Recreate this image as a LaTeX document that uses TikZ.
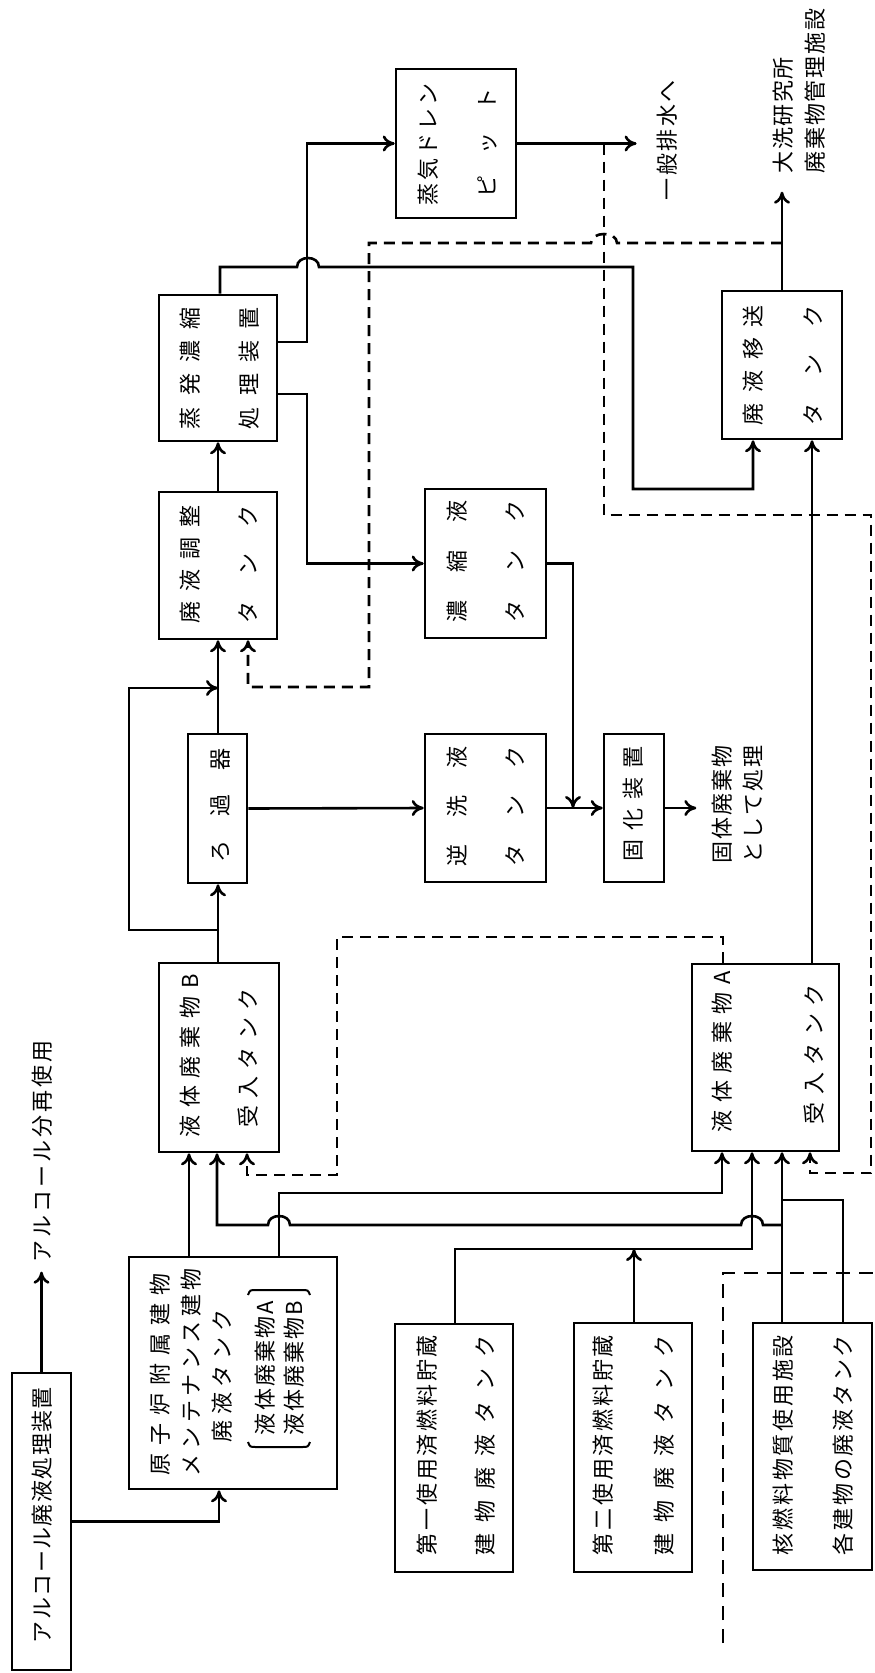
\documentclass[tikz,border=0pt]{standalone}
\usepackage{fontspec}
\newfontfamily\jp{Noto Sans CJK JP}
\usetikzlibrary{arrows.meta}
\newcommand\jpt{\jp\fontsize{22}{26}\selectfont}
% spread the characters of #2 over the length #1
\newcommand\spr[2]{\hbox to #1{\sprA#2\relax}}
\def\sprA#1{#1\sprB}
\def\sprB#1{\ifx#1\relax\else\hfill#1\expandafter\sprB\fi}
\begin{document}
\begin{tikzpicture}[x=1pt,y=-1pt,line width=2.6pt,
  bx/.style={draw,line width=2.6pt,inner sep=0pt},
  tx/.style={rotate=90,inner sep=0pt,font=\jpt},
  arr/.style={-{Computer Modern Rightarrow[length=12pt,width=16pt]}},
  dsh/.style={dash pattern=on 11pt off 7pt},
  dshb/.style={dash pattern=on 14pt off 9pt}]
\useasboundingbox (0,0) rectangle (875,1673);
% boxes
\node[bx,minimum width=59pt,minimum height=297pt] (alc) at (41.5,1521.5) {};
\node[bx,minimum width=208pt,minimum height=232pt] (genshi) at (233,1373) {};
\node[bx,minimum width=120pt,minimum height=189pt] (tankB) at (219,1057.5) {};
\node[bx,minimum width=59pt,minimum height=149pt] (filt) at (217.5,808.5) {};
\node[bx,minimum width=118pt,minimum height=147pt] (adj) at (218,565.5) {};
\node[bx,minimum width=118pt,minimum height=146pt] (evap) at (218,368) {};
\node[bx,minimum width=120pt,minimum height=149pt] (drain) at (456,143.5) {};
\node[bx,minimum width=121pt,minimum height=149pt] (conc) at (485.5,563.5) {};
\node[bx,minimum width=121pt,minimum height=148pt] (back) at (485.5,808) {};
\node[bx,minimum width=60pt,minimum height=148pt] (solid) at (634,808) {};
\node[bx,minimum width=120pt,minimum height=148pt] (transfer) at (782,365) {};
\node[bx,minimum width=147pt,minimum height=187pt] (tankA) at (765.5,1057.5) {};
\node[bx,minimum width=118pt,minimum height=248pt] (first) at (454,1448) {};
\node[bx,minimum width=118pt,minimum height=249pt] (second) at (633,1447.5) {};
\node[bx,minimum width=119pt,minimum height=247pt] (nuc) at (812.5,1446.5) {};

% texts
\node[tx] (alc-t) at (42,1515) {\spr{256pt}{アルコール廃液処理装置}};
\node[tx] (reuse) at (42,1151) {\spr{222pt}{アルコール分再使用}};
\node[tx] (genshi-t1) at (160,1374) {\spr{202pt}{原子炉附属建物}};
\node[tx] (genshi-t2) at (191,1372) {\spr{208pt}{メンテナンス建物}};
\node[tx] (genshi-t3) at (222,1376) {\spr{133pt}{廃液タンク}};
\node[tx] (genshi-t4) at (265,1368) {\spr{134pt}{液体廃棄物A}};
\node[tx] (genshi-t5) at (294,1368) {\spr{134pt}{液体廃棄物B}};
\node[tx] (tankB-t1) at (190,1056) {\spr{163pt}{液体廃棄物B}};
\node[tx] (tankB-t2) at (248,1058) {\spr{139pt}{受入タンク}};
\node[tx] (filt-t) at (220,805) {\spr{114pt}{ろ過器}};
\node[tx] (adj-t1) at (190,564) {\spr{118pt}{廃液調整}};
\node[tx] (adj-t2) at (248,564) {\spr{118pt}{タンク}};
\node[tx] (evap-t1) at (190,368) {\spr{122pt}{蒸発濃縮}};
\node[tx] (evap-t2) at (249,368) {\spr{122pt}{処理装置}};
\node[tx] (drain-t1) at (428,144) {\spr{122pt}{蒸気ドレン}};
\node[tx] (drain-t2) at (487,143) {\spr{109pt}{ピット}};
\node[tx] (haisui) at (667,140) {\spr{120pt}{一般排水へ}};
\node[tx] (conc-t1) at (457,561) {\spr{122pt}{濃縮液}};
\node[tx] (conc-t2) at (515,561) {\spr{122pt}{タンク}};
\node[tx] (back-t1) at (457,806) {\spr{120pt}{逆洗液}};
\node[tx] (back-t2) at (515,806) {\spr{120pt}{タンク}};
\node[tx] (solid-t) at (633,804) {\spr{115pt}{固化装置}};
\node[tx] (kotai1) at (722,804) {\spr{118pt}{固体廃棄物}};
\node[tx] (kotai2) at (753,804) {\spr{118pt}{として処理}};
\node[tx] (transfer-t1) at (753,365) {\spr{120pt}{廃液移送}};
\node[tx] (transfer-t2) at (813,365) {\spr{120pt}{タンク}};
\node[tx] (oarai1) at (783,115) {\spr{116pt}{大洗研究所}};
\node[tx] (oarai2) at (815,91) {\spr{165pt}{廃棄物管理施設}};
\node[tx] (tankA-t1) at (722,1052) {\spr{161pt}{液体廃棄物A}};
\node[tx] (tankA-t2) at (814,1054) {\spr{140pt}{受入タンク}};
\node[tx] (first-t1) at (427,1445) {\spr{220pt}{第一使用済燃料貯蔵}};
\node[tx] (first-t2) at (485,1445) {\spr{220pt}{建物廃液タンク}};
\node[tx] (second-t1) at (603,1445) {\spr{220pt}{第二使用済燃料貯蔵}};
\node[tx] (second-t2) at (664,1445) {\spr{220pt}{建物廃液タンク}};
\node[tx] (nuc-t1) at (783,1445) {\spr{220pt}{核燃料物質使用施設}};
\node[tx] (nuc-t2) at (843,1445) {\spr{220pt}{各建物の廃液タンク}};

% brackets round the two kinds of waste
\draw[line width=2pt] (248,1442) .. controls (250,1447) .. (256,1447) -- (302,1447) .. controls (308,1447) .. (310,1442);
\draw[line width=2pt] (248,1295) .. controls (250,1290) .. (256,1290) -- (302,1290) .. controls (308,1290) .. (310,1295);

% main flow
\draw[arr] (alc.north) -- ++(0,-100);
\draw[arr] (alc.east) -| (genshi.south -| 219,0);
\draw[arr] (genshi.north -| 189,0) -- (tankB.south -| 189,0);
\draw[arr] (genshi.north -| 279,0) |- (722,1193) -- (tankA.south -| 722,0);
\draw[arr] (nuc.north -| 782,0) -- (tankA.south -| 782,0);
\draw (nuc.north -| 843,0) |- (782,1200);
\draw[arr] (782,1225) -- (763,1225) .. controls (763,1213) and (741,1213) .. (741,1225)
  -- (290,1225) .. controls (290,1213) and (268,1213) .. (268,1225) -| (tankB.south -| 217,0);
\draw[arr] (first.north -| 455,0) |- (752,1249) -- (tankA.south -| 752,0);
\draw[arr] (second.north -| 634,0) -- (634,1249);
\draw[arr] (tankB.north -| 218,0) -- (filt.south -| 218,0);
\draw[arr] (filt.south |- 0,930) -| (129,688) -- (218,688);
\draw[arr] (filt.north -| 218,0) -- (adj.south -| 218,0);
\draw[arr] (adj.north) -- (evap.south);
\draw[arr] (evap.east |- 0,342) -| (307,143.5) -- (drain.west);
\draw[arr] (evap.east |- 0,394) -| (307,563.5) -- (conc.west);
\draw[arr] (evap.north -| 220,0) |- (297,267) .. controls (297,255) and (319,255) .. (319,267)
  -| (633,489) -| (transfer.south -| 753,0);
\draw[arr] (drain.east) -- ([xshift=-19pt]drain.east -| haisui.north);
\coordinate (mix) at (573,808);
\draw[arr] (filt.east) -- (back.west);
\draw[arr] (conc.east) -| (mix);
\draw[arr] (back.east) -- (solid.west);
\draw[arr] (solid.east) -- ++(31,0);
\draw[arr] (tankA.north -| 812,0) -- (transfer.south -| 812,0);
\draw[arr] (transfer.north) -- ++(0,-98);

% return lines
\draw[dsh,arr] (tankA.north -| 723,0) |- (337,937) |- (247,1175) -- (tankB.south -| 247,0);
\draw[dsh,arr] (drain.east -| 604,0) |- (871,515) |- (810,1173) -- (tankA.south -| 810,0);
\draw[dsh,arr] (transfer.north |- 0,243) -- (617,243) .. controls (617,231) and (591,231) .. (591,243)
  -| (369,687) -| (adj.south -| 248,0);
\draw[dshb] (723,1643) -- (723,1273) -- (875,1273);
\end{tikzpicture}
\end{document}
